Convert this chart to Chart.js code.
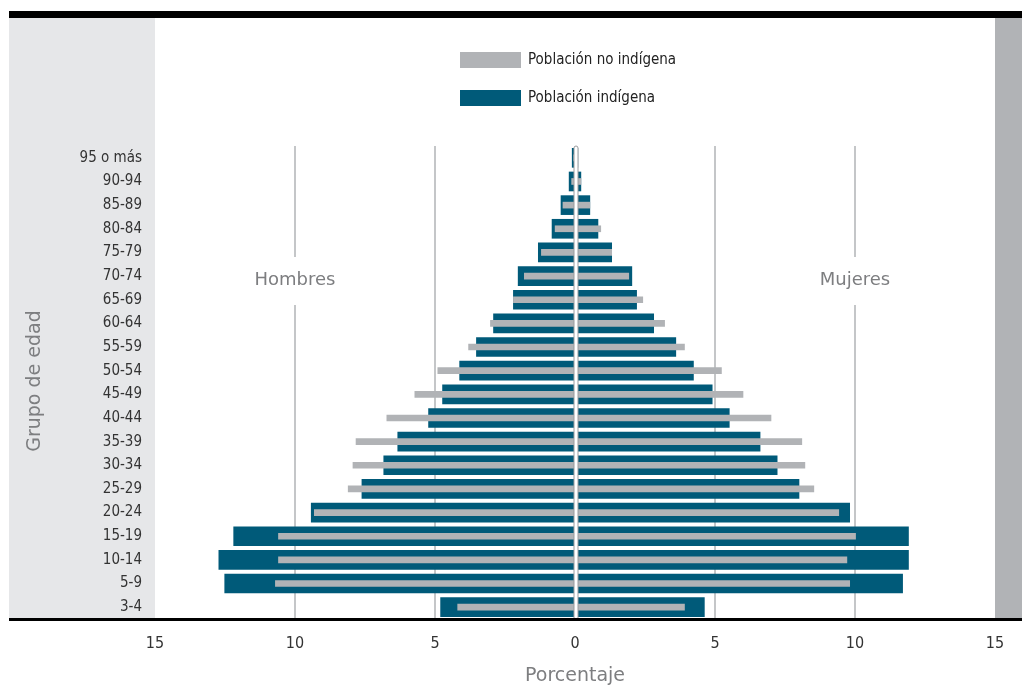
<!DOCTYPE html>
<html>
<head>
<meta charset="utf-8">
<script src="https://cdn.jsdelivr.net/npm/chart.js@4"></script>
<style>
  html, body { margin: 0; padding: 0; background: #fff; }
  #wrap { width: 1022px; height: 700px; }
</style>
</head>
<body>
<div id="wrap"><canvas id="pyramid" width="1022" height="700"></canvas></div>
<script>
// age groups, top to bottom
var grupos = ['95 o más', '90-94', '85-89', '80-84', '75-79', '70-74', '65-69', '60-64', '55-59', '50-54',
              '45-49', '40-44', '35-39', '30-34', '25-29', '20-24', '15-19', '10-14', '5-9', '3-4'];

// percentages
var hombresIndigena   = [0.1, 0.21, 0.5, 0.82, 1.31, 2.03, 2.2, 2.91, 3.52, 4.12, 4.73, 5.23, 6.33, 6.83, 7.61, 9.42, 12.19, 12.72, 12.51, 4.8];
var mujeresIndigena   = [0.1, 0.21, 0.53, 0.82, 1.31, 2.03, 2.2, 2.81, 3.6, 4.23, 4.9, 5.51, 6.61, 7.22, 8.0, 9.81, 11.91, 11.91, 11.7, 4.62];
var hombresNoIndigena = [0.05, 0.12, 0.43, 0.71, 1.2, 1.81, 2.2, 3.02, 3.8, 4.9, 5.72, 6.72, 7.82, 7.93, 8.1, 9.31, 10.59, 10.59, 10.7, 4.19];
var mujeresNoIndigena = [0.07, 0.21, 0.53, 0.92, 1.31, 1.92, 2.42, 3.2, 3.91, 5.23, 6.0, 7.0, 8.1, 8.21, 8.53, 9.42, 10.02, 9.71, 9.81, 3.91];

var ejeTicks = [-15, -10, -5, 0, 5, 10, 15];
var lados = ['Hombres', 'Mujeres'];

var AZUL = '#005a79';
var GRIS = '#b1b3b6';
var NARROW = '"DejaVu Sans Condensed", "Liberation Sans Narrow", "DejaVu Sans", sans-serif';
var WIDE = '"DejaVu Sans", sans-serif';

var neg = function(arr) { return arr.map(function(v) { return -v; }); };

// panels, black rules, legend, side labels, centre line
var decor = {
  id: 'decor',
  beforeDraw: function(chart) {
    var ctx = chart.ctx, a = chart.chartArea;
    ctx.save();
    ctx.fillStyle = '#e6e7e9';
    ctx.fillRect(9, 18, a.left - 9, a.bottom - 18);
    ctx.fillStyle = GRIS;
    ctx.fillRect(a.right, 18, chart.width - a.right, a.bottom - 18);
    ctx.fillStyle = '#000';
    ctx.fillRect(9, 11, chart.width - 9, 7);
    ctx.restore();
  },
  beforeDatasetsDraw: function(chart) {
    var ctx = chart.ctx, x = chart.scales.x;
    ctx.save();
    ctx.font = '18px ' + WIDE;
    ctx.fillStyle = '#7d7e80';
    ctx.textAlign = 'center';
    ctx.textBaseline = 'middle';
    [-10, 10].forEach(function(v, i) {
      var px = x.getPixelForValue(v);
      ctx.fillStyle = '#fff';
      ctx.fillRect(px - 4, 257, 8, 48);
      ctx.fillStyle = '#7d7e80';
      ctx.fillText(lados[i], px, 280);
    });
    ctx.restore();
  },
  afterDraw: function(chart) {
    var ctx = chart.ctx, a = chart.chartArea, x = chart.scales.x;
    ctx.save();
    // centre line
    var cx = x.getPixelForValue(0) + 1;
    ctx.fillStyle = '#fff';
    ctx.strokeStyle = '#9a9c9e';
    ctx.lineWidth = 1;
    ctx.beginPath();
    ctx.moveTo(cx - 2, a.bottom);
    ctx.lineTo(cx - 2, a.top + 2);
    ctx.arcTo(cx - 2, a.top, cx, a.top, 2);
    ctx.arcTo(cx + 2, a.top, cx + 2, a.top + 2, 2);
    ctx.lineTo(cx + 2, a.bottom);
    ctx.closePath();
    ctx.fill();
    ctx.stroke();
    // bottom rule
    ctx.fillStyle = '#000';
    ctx.fillRect(9, a.bottom - 1, chart.width - 9, 3);
    // legend
    var items = [chart.data.datasets[0], chart.data.datasets[2]];
    ctx.font = '15px ' + NARROW;
    ctx.textBaseline = 'middle';
    items.forEach(function(ds, i) {
      var y = 52 + i * 38;
      ctx.fillStyle = ds.backgroundColor;
      ctx.fillRect(460, y, 61, 16);
      ctx.fillStyle = '#222';
      ctx.fillText(ds.label, 528, y + 8);
    });
    // axis titles
    ctx.fillStyle = '#7d7e80';
    ctx.font = '19px ' + WIDE;
    ctx.textAlign = 'center';
    ctx.fillText('Porcentaje', (a.left + a.right) / 2, 676);
    ctx.translate(35, 381);
    ctx.rotate(-Math.PI / 2);
    ctx.fillText('Grupo de edad', 0, 0);
    ctx.restore();
  }
};

new Chart(document.getElementById('pyramid'), {
  type: 'bar',
  data: {
    labels: grupos,
    datasets: [
      { label: 'Población no indígena', data: neg(hombresNoIndigena), backgroundColor: GRIS, barThickness: 6, order: 0 },
      { label: 'Población no indígena', data: mujeresNoIndigena, backgroundColor: GRIS, barThickness: 6, order: 0 },
      { label: 'Población indígena', data: neg(hombresIndigena), backgroundColor: AZUL, barThickness: 19, order: 1 },
      { label: 'Población indígena', data: mujeresIndigena, backgroundColor: AZUL, barThickness: 19, order: 1 }
    ]
  },
  options: {
    indexAxis: 'y',
    responsive: false,
    animation: false,
    datasets: { bar: { grouped: false } },
    layout: { padding: { left: 9, right: 27, top: 146, bottom: 0 } },
    plugins: { legend: { display: false }, tooltip: { enabled: false } },
    scales: {
      x: {
        min: -15, max: 15,
        afterFit: function(s) { s.height = 81; },
        afterBuildTicks: function(s) { s.ticks = ejeTicks.map(function(v) { return { value: v }; }); },
        border: { display: false },
        grid: {
          drawTicks: false,
          lineWidth: 2,
          color: function(c) {
            var v = c.tick ? c.tick.value : 0;
            return (Math.abs(v) === 5 || Math.abs(v) === 10) ? '#c4c6c8' : 'rgba(0,0,0,0)';
          }
        },
        ticks: {
          padding: 15,
          color: '#333',
          font: { family: NARROW, size: 16 },
          maxRotation: 0,
          callback: function(v) { return Math.abs(v); }
        }
      },
      y: {
        afterFit: function(s) { s.width = 146; },
        border: { display: false },
        grid: { display: false, drawTicks: false },
        ticks: {
          padding: 13,
          color: '#333',
          font: { family: NARROW, size: 15 }
        }
      }
    }
  },
  plugins: [decor]
});
</script>
</body>
</html>
